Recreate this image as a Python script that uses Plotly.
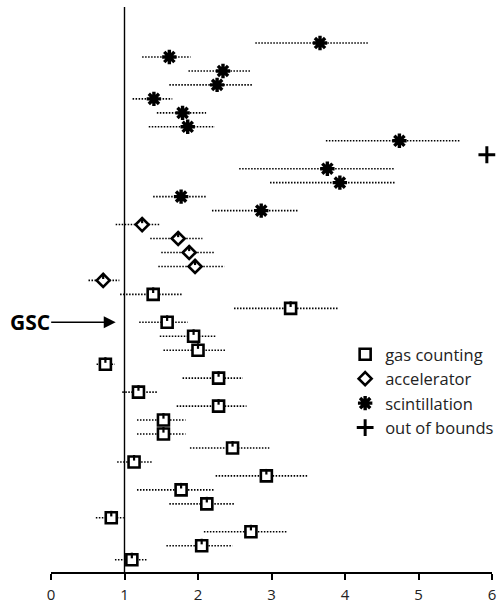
import plotly.graph_objects as go

# ---- data (rows top to bottom) ----
rows = list(range(1, 39))
methods = ["S"] * 8 + ["O"] + ["S"] * 4 + ["A"] * 5 + ["G"] * 20
values = [3.66, 1.61, 2.34, 2.26, 1.40, 1.79, 1.86, 4.74, 5.93, 3.76, 3.93, 1.77, 2.86,
          1.24, 1.73, 1.88, 1.96, 0.71,
          1.39, 3.26, 1.58, 1.94, 2.00, 0.74, 2.28, 1.19, 2.28, 1.53, 1.53, 2.47,
          1.13, 2.93, 1.77, 2.12, 0.82, 2.72, 2.05, 1.10]
lows = [2.78, 1.24, 1.87, 1.61, 1.11, 1.44, 1.33, 3.74, None, 2.56, 2.98, 1.39, 2.19,
        0.88, 1.35, 1.50, 1.46, 0.51,
        0.94, 2.49, 1.20, 1.48, 1.53, 0.62, 1.79, 0.97, 1.71, 1.17, 1.17, 1.89,
        0.90, 2.24, 1.17, 1.61, 0.61, 2.08, 1.57, 0.87]
highs = [4.31, 1.90, 2.71, 2.74, 1.65, 2.11, 2.23, 5.56, None, 4.68, 4.69, 2.11, 3.37,
         1.49, 2.06, 2.22, 2.36, 0.93,
         1.78, 3.91, 1.86, 2.25, 2.38, 0.87, 2.61, 1.45, 2.66, 1.83, 1.83, 2.97,
         1.39, 3.49, 2.23, 2.50, 0.99, 3.21, 2.47, 1.30]
method_names = {"G": "gas counting", "A": "accelerator", "S": "scintillation", "O": "out of bounds"}
x_ticks = [0, 1, 2, 3, 4, 5, 6]
gsc_row = 21
reference_x = 1

fig = go.Figure()

# dotted range lines
ex, ey = [], []
for r, lo, hi in zip(rows, lows, highs):
    if lo is None:
        continue
    ex += [lo, hi, None]
    ey += [r, r, None]
fig.add_trace(go.Scatter(x=ex, y=ey, mode="lines", showlegend=False, hoverinfo="skip",
                         line=dict(color="black", width=1.6, dash="1.5px,1.5px")))

styles = {
    "G": dict(symbol="square", size=11, color="white", line=dict(color="black", width=2.6)),
    "A": dict(symbol="diamond", size=10, color="white", line=dict(color="black", width=2.6)),
    "S": dict(symbol="asterisk-open", size=12, color="black", line=dict(color="black", width=3.4)),
    "O": dict(symbol="cross-thin-open", size=12, color="black", line=dict(color="black", width=3)),
}
for m in ["G", "A", "S", "O"]:
    xs = [v for v, mm in zip(values, methods) if mm == m]
    ys = [r for r, mm in zip(rows, methods) if mm == m]
    fig.add_trace(go.Scatter(x=xs, y=ys, mode="markers", name=method_names[m],
                             marker=styles[m], cliponaxis=False))

# small notch inside the square / diamond glyphs (style detail)
notch_shift = {"G": 0.30, "A": 0.30}
nx, ny = [], []
for v, r, mm in zip(values, rows, methods):
    if mm in notch_shift:
        nx.append(v)
        ny.append(r - notch_shift[mm])
fig.add_trace(go.Scatter(x=nx, y=ny, mode="markers", showlegend=False, hoverinfo="skip",
                         marker=dict(symbol="line-ns-open", size=4, color="black",
                                     line=dict(color="black", width=2.2))))

fig.add_shape(type="line", x0=reference_x, x1=reference_x, xref="x", y0=0, y1=1, yref="paper",
              line=dict(color="black", width=1.4))

fig.add_annotation(x=0.88, y=gsc_row, xref="x", yref="y", text="<b>GSC</b>",
                   showarrow=True, ax=-86, ay=0, arrowhead=2, arrowsize=1.7, arrowwidth=1.4,
                   arrowcolor="black", standoff=0,
                   font=dict(size=21, color="black", family="Open Sans"))

fig.update_layout(
    width=497, height=605,
    margin=dict(l=51, r=5, t=7, b=33, autoexpand=False),
    plot_bgcolor="white", paper_bgcolor="white",
    font=dict(family="Open Sans", color="#222"),
    xaxis=dict(range=[0, 6], tickvals=x_ticks, showgrid=False, zeroline=False,
               showline=True, linecolor="black", linewidth=1.5, automargin=False,
               ticks="outside", ticklen=6, tickwidth=1.5, tickcolor="black",
               ticklabelstandoff=2,
               tickfont=dict(size=15, color="#222")),
    yaxis=dict(range=[38.88, -1.58], visible=False, showgrid=False, zeroline=False,
               automargin=False),
    legend=dict(x=0.667, y=0.416, xanchor="left", yanchor="top",
                font=dict(size=16.5, color="#222"),
                bgcolor="rgba(0,0,0,0)", itemwidth=30, traceorder="normal"),
    showlegend=True,
)

fig.write_html("out.html", config={"displayModeBar": False},
               post_script="document.body.style.margin='0px';")
